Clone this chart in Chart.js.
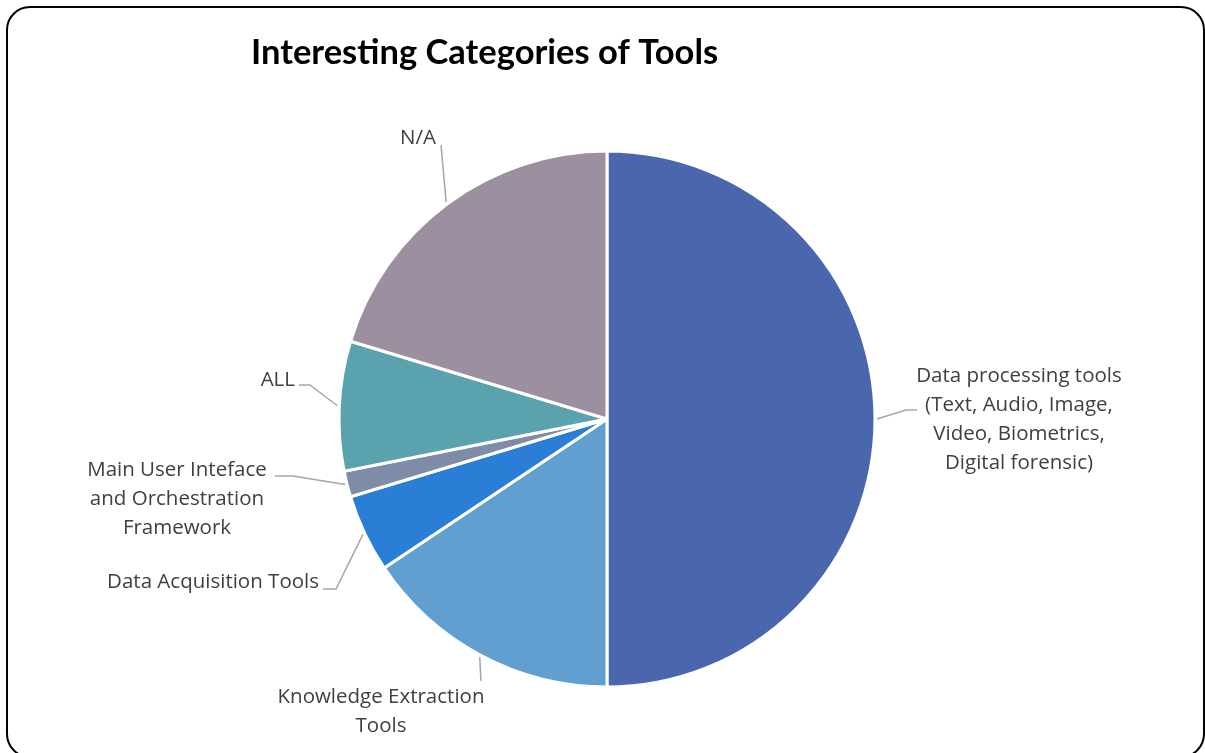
<!DOCTYPE html>
<html>
<head>
<meta charset="utf-8">
<script src="https://cdn.jsdelivr.net/npm/chart.js@4/dist/chart.umd.min.js"></script>
<style>
  html, body { margin: 0; padding: 0; background: #fff; overflow: hidden; }
  body { width: 1205px; height: 753px; position: relative; }
  #frame {
    position: absolute; left: 6px; top: 6px; width: 1199px; height: 752px;
    border: 2px solid #000; border-radius: 24px; box-sizing: border-box;
  }
  #wrap { position: absolute; left: 0; top: 0; width: 1205px; height: 753px; }
</style>
</head>
<body>
<div id="frame"></div>
<div id="wrap"><canvas id="canvas"></canvas></div>
<script>
/* tool categories, clockwise from 12 o'clock */

var categories = [
  'Data processing tools (Text, Audio, Image, Video, Biometrics, Digital forensic)',
  'Knowledge Extraction Tools',
  'Data Acquisition Tools',
  'Main User Inteface and Orchestration Framework',
  'ALL',
  'N/A'
];
var counts = [32, 10, 3, 1, 5, 13];
var colors = ['#4A67AE', '#629FD1', '#2A7ED6', '#7F8CA8', '#5AA2AE', '#9C8FA0'];

// label text broken into lines, plus where each label and its leader line sit
var labelLines = [
  ['Data processing tools', '(Text, Audio, Image,', 'Video, Biometrics,', 'Digital forensic)'],
  ['Knowledge Extraction', 'Tools'],
  ['Data Acquisition Tools'],
  ['Main User Inteface', 'and Orchestration', 'Framework'],
  ['ALL'],
  ['N/A']
];
var labelPos = [
  { x: 1019, y: 376, align: 'center', leader: [[906, 410], [917, 410]] },
  { x: 381, y: 697, align: 'center', leader: [[481, 681]] },
  { x: 319, y: 582, align: 'right', leader: [[336, 589], [323, 589]] },
  { x: 177, y: 470, align: 'center', leader: [[293, 476], [275, 476]] },
  { x: 295, y: 380, align: 'right', leader: [[310, 385], [299, 385]] },
  { x: 418, y: 138, align: 'center', leader: [[441, 145]] }
];

var labelPlugin = {
  id: 'sliceLabels',
  afterDatasetsDraw: function (chart) {
    var ctx = chart.ctx;
    var arcs = chart.getDatasetMeta(0).data;
    ctx.save();

    // leader lines start just outside each slice, at its middle angle
    ctx.strokeStyle = '#A6A6A6';
    ctx.lineWidth = 1.5;
    arcs.forEach(function (arc, i) {
      var p = arc.getProps(['x', 'y', 'startAngle', 'endAngle', 'outerRadius'], true);
      var mid = (p.startAngle + p.endAngle) / 2;
      var r = p.outerRadius + 2;
      ctx.beginPath();
      ctx.moveTo(p.x + Math.cos(mid) * r, p.y + Math.sin(mid) * r);
      labelPos[i].leader.forEach(function (pt) {
        ctx.lineTo(pt[0], pt[1]);
      });
      ctx.stroke();
    });

    ctx.fillStyle = '#404040';
    ctx.font = '20.5px "Open Sans"';
    ctx.textBaseline = 'middle';
    labelLines.forEach(function (lines, i) {
      var pos = labelPos[i];
      ctx.textAlign = pos.align;
      lines.forEach(function (line, j) {
        ctx.fillText(line, pos.x, pos.y + j * 29);
      });
    });

    // chart title
    ctx.fillStyle = '#000';
    ctx.font = 'bold 34.5px Lato';
    ctx.textAlign = 'left';
    ctx.fillText('Interesting Categories of Tools', 251, 53);
    ctx.restore();
  }
};

const ctx = document.getElementById('canvas').getContext('2d');
const myChart = new Chart(ctx, {
  type: 'pie',
  data: {
    labels: categories,
    datasets: [
      {
        data: counts,
        backgroundColor: colors,
        borderColor: '#fff',
        borderWidth: 3,
      },
    ],
  },
  options: {
    responsive: true,
    maintainAspectRatio: false,
    animation: false,
    radius: 268,
    layout: { padding: { left: 9, right: 0, top: 85, bottom: 0 } },
    plugins: {
      legend: { display: false },
      tooltip: { enabled: false },
    },
  },
  plugins: [labelPlugin],
});
</script>
</body>
</html>
